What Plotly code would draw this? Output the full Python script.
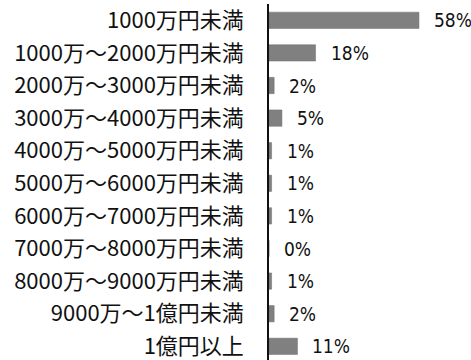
import plotly.graph_objects as go

# Share of respondents by amount bracket
categories = [
    "1000万円未満",
    "1000万～2000万円未満",
    "2000万～3000万円未満",
    "3000万～4000万円未満",
    "4000万～5000万円未満",
    "5000万～6000万円未満",
    "6000万～7000万円未満",
    "7000万～8000万円未満",
    "8000万～9000万円未満",
    "9000万～1億円未満",
    "1億円以上",
]
shares = [58, 18, 2, 5, 1, 1, 1, 0, 1, 2, 11]
share_labels = [f"{v}%" for v in shares]

fig = go.Figure()
fig.add_trace(go.Bar(
    x=shares,
    y=categories,
    orientation="h",
    marker=dict(color="#808080", line=dict(color="#6e6e6e", width=0.5)),
    hoverinfo="skip",
))

for cat, val, lab in zip(categories, shares, share_labels):
    fig.add_annotation(
        x=val, y=cat, text=lab, showarrow=False,
        xanchor="left", yanchor="middle", xshift=13,
        font=dict(family="DejaVu Sans Condensed", size=19, color="#111111"),
    )

fig.update_layout(
    width=471, height=360,
    margin=dict(l=269, r=21, t=4, b=0),
    paper_bgcolor="white", plot_bgcolor="white",
    bargap=0.5,
    showlegend=False,
    font=dict(family="Noto Sans CJK JP", size=22, color="#111111"),
)
fig.update_xaxes(range=[0, 70], visible=False, showgrid=False, zeroline=False)
fig.update_yaxes(
    type="category",
    range=[10.42, -0.5],
    showline=True, linecolor="#111111", linewidth=1.5,
    showgrid=False, zeroline=False,
    ticks="", ticklabelstandoff=19,
    tickfont=dict(family="Noto Sans CJK JP", size=22, color="#111111"),
)

fig.write_html("out.html")
